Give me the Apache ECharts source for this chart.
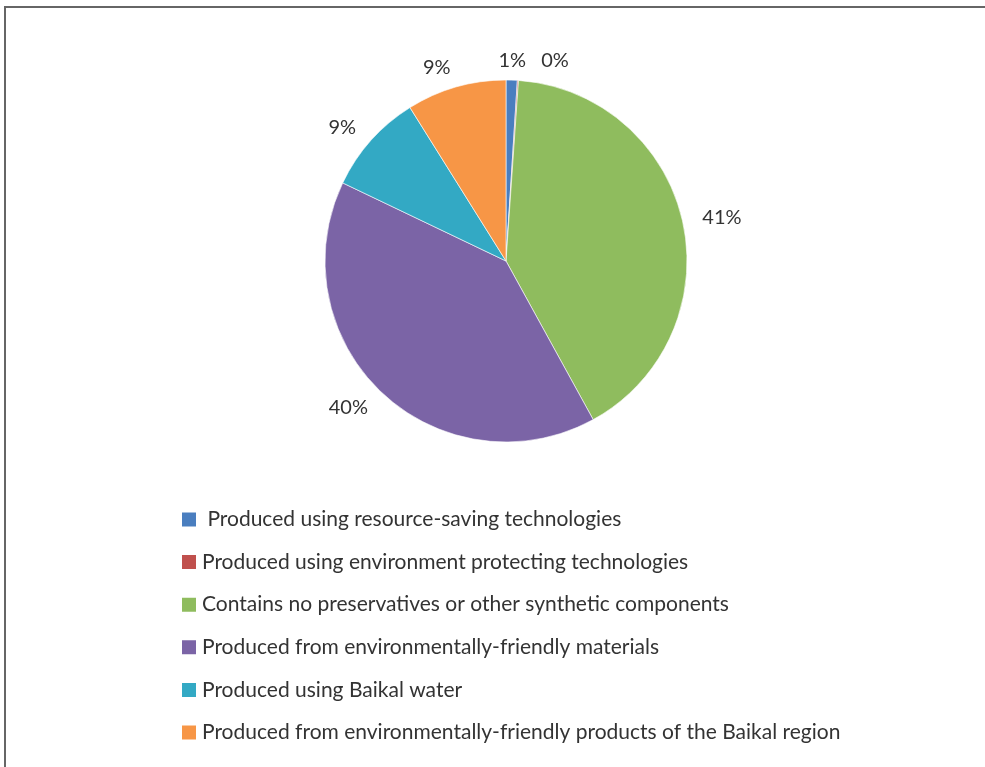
<!DOCTYPE html>
<html>
<head>
<meta charset="utf-8">
<script src="https://cdn.jsdelivr.net/npm/echarts@6/dist/echarts.min.js"></script>
<style>
  html, body { margin: 0; padding: 0; background: #fff; overflow: hidden; }
  #frame { position: absolute; left: 4px; top: 6px; width: 1000px; height: 800px; border-top: 2px solid #666; border-left: 2px solid #666; box-sizing: border-box; }
  #chart { position: absolute; left: 0; top: 0; width: 985px; height: 767px; }
</style>
</head>
<body>
<div id="frame"></div>
<div id="chart"></div>
<script>
const categories = [
  ' Produced using resource-saving technologies',
  'Produced using environment protecting technologies',
  'Contains no preservatives or other synthetic components',
  'Produced from environmentally-friendly materials',
  'Produced using Baikal water',
  'Produced from environmentally-friendly products of the Baikal region'
];
const shares = [1.0, 0.1, 40.9, 40.1, 9.0, 8.9];
const colors = ['#4A7EBF', '#C0504D', '#8FBC5E', '#7B64A6', '#33A9C4', '#F79646'];

const FONT = 'Lato, "Noto Sans", sans-serif';
const chart = echarts.init(document.getElementById('chart'), null, { renderer: 'canvas' });
chart.setOption({
  animation: false,
  backgroundColor: 'transparent',
  color: colors,
  legend: {
    orient: 'vertical',
    left: 180,
    top: 509,
    padding: 0,
    icon: 'rect',
    itemWidth: 16,
    itemHeight: 16,
    itemGap: 21.6,
    selectedMode: false,
    data: categories,
    textStyle: { fontFamily: FONT, fontSize: 21, lineHeight: 20, color: '#333', padding: [0, 0, 0, 0] }
  },
  series: [{
    type: 'pie',
    center: [506, 261],
    radius: 181,
    startAngle: 90,
    clockwise: true,
    avoidLabelOverlap: false,
    percentPrecision: 0,
    itemStyle: { borderColor: '#fff', borderWidth: 0.6 },
    label: {
      show: true,
      position: 'outside',
      formatter: '{d}%',
      fontFamily: FONT,
      fontSize: 20,
      color: '#333',
      distanceToLabelLine: 0
    },
    labelLine: { show: false, length: 20, length2: 0 },
    labelLayout: function (params) {
      if (params.dataIndex === 0) return { align: 'center', moveOverlap: 'shiftX' };
      if (params.dataIndex === 1) return { moveOverlap: 'shiftX' };
      return {};
    },
    emphasis: { disabled: true },
    data: categories.map((c, i) => ({
      name: c,
      value: shares[i],
      label: i === 1 ? { padding: [0, 0, 0, 22] } : undefined
    }))
  }]
});
</script>
</body>
</html>
